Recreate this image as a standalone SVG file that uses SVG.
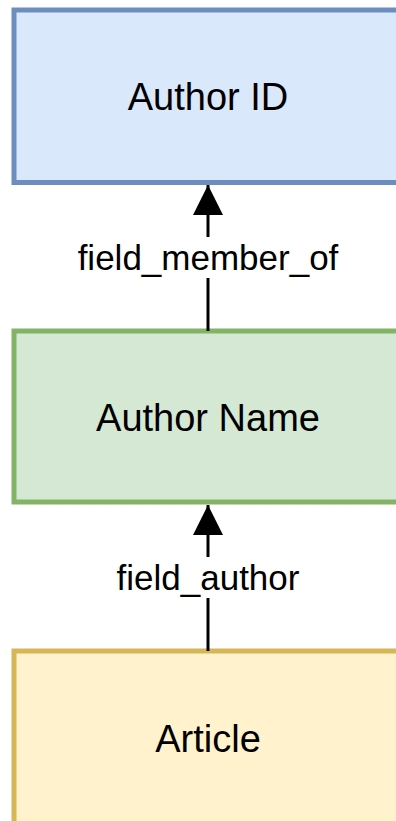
<svg xmlns="http://www.w3.org/2000/svg" width="396" height="821" viewBox="0 0 396 821">
<style>
.box{stroke-width:5}
.lbl{font-family:"Liberation Sans",Arial,sans-serif;font-size:38px;fill:#000;text-anchor:middle}
.elbl{font-family:"Liberation Sans",Arial,sans-serif;font-size:35px;fill:#000;text-anchor:middle}
.edge{stroke:#000;stroke-width:3;fill:none}
</style>
<defs>
<marker id="arr" markerUnits="userSpaceOnUse" markerWidth="30" markerHeight="30" viewBox="0 0 28 28" refX="28" refY="14" orient="auto">
<path d="M0,0 L28,14 L0,28 Z" fill="#000"/>
</marker>
</defs>
<rect width="396" height="821" fill="#fff"/>
<g id="author-id">
<rect class="box" x="14" y="10" width="388" height="172.5" fill="#dae8fc" stroke="#6c8ebf"/>
<text class="lbl" x="208" y="110">Author ID</text>
</g>
<g id="author-name">
<rect class="box" x="14" y="331" width="388" height="171" fill="#d5e8d4" stroke="#82b366"/>
<text class="lbl" x="208" y="431">Author Name</text>
</g>
<g id="article">
<rect class="box" x="14" y="651" width="388" height="180" fill="#fff2cc" stroke="#d6b656"/>
<text class="lbl" x="208" y="752">Article</text>
</g>
<g id="connectors">
<line class="edge" x1="208" y1="331" x2="208" y2="185" marker-end="url(#arr)"/>
<rect x="70" y="237" width="276" height="41" fill="#fff"/>
<text class="elbl" x="208" y="270">field_member_of</text>
<line class="edge" x1="208" y1="651" x2="208" y2="505" marker-end="url(#arr)"/>
<rect x="110" y="557" width="196" height="41" fill="#fff"/>
<text class="elbl" x="208" y="590">field_author</text>
</g>
</svg>
